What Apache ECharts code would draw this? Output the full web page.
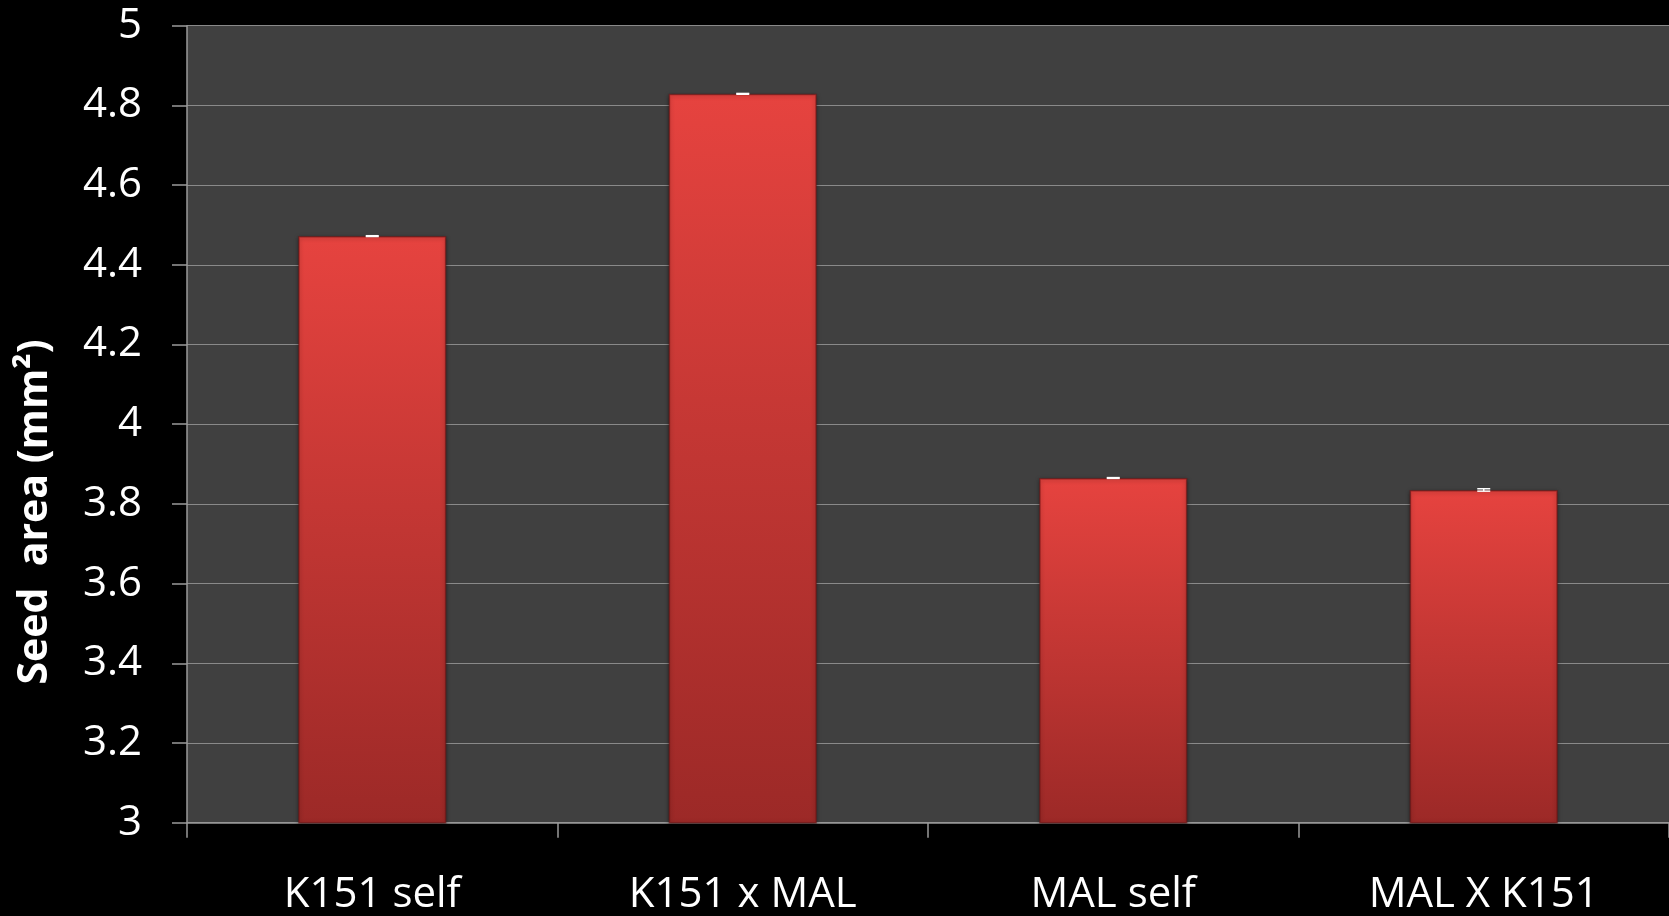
<!DOCTYPE html>
<html>
<head>
<meta charset="utf-8">
<script src="https://cdn.jsdelivr.net/npm/echarts@6/dist/echarts.min.js"></script>
<style>
html,body{margin:0;padding:0;background:#000;}
#chart{width:1669px;height:916px;}
</style>
</head>
<body>
<div id="chart"></div>
<script>
const categories = ['K151 self', 'K151 x MAL', 'MAL self', 'MAL X K151'];
const seedArea = [4.472, 4.829, 3.865, 3.835];
const seedAreaErr = [0.001, 0.001, 0.001, 0.003];
const yTicks = [3, 3.2, 3.4, 3.6, 3.8, 4, 4.2, 4.4, 4.6, 4.8, 5];

const errData = seedArea.map((v, i) => [i, v - seedAreaErr[i], v + seedAreaErr[i]]);

const chart = echarts.init(document.getElementById('chart'));
chart.setOption({
  backgroundColor: '#000',
  animation: false,
  grid: {
    left: 187, right: 0, top: 25.7, bottom: 93.3,
    show: true, backgroundColor: '#404040', borderWidth: 0
  },
  xAxis: {
    type: 'category',
    data: categories,
    boundaryGap: true,
    axisLine: { show: true, lineStyle: { color: '#9a9a9a', width: 1.5 } },
    axisTick: { show: true, length: 15, alignWithLabel: false, lineStyle: { color: '#9a9a9a', width: 1.5 } },
    axisLabel: { color: '#fff', fontFamily: 'Open Sans', fontSize: 42, margin: 51 },
    splitLine: { show: false }
  },
  yAxis: {
    type: 'value',
    min: yTicks[0], max: yTicks[yTicks.length - 1], interval: 0.2,
    axisLine: { show: true, lineStyle: { color: '#9a9a9a', width: 1.5 } },
    axisTick: { show: true, length: 15, lineStyle: { color: '#9a9a9a', width: 1.5 } },
    axisLabel: {
      color: '#fff', fontFamily: 'Open Sans', fontSize: 42, margin: 45,
      formatter: v => String(Math.round(v * 10) / 10)
    },
    splitLine: { show: true, lineStyle: { color: '#8a8a8a', width: 1.2 } }
  },
  graphic: [{
    type: 'text',
    x: 35, y: 512,
    rotation: Math.PI / 2,
    style: {
      text: 'Seed  area (mm²)',
      fill: '#fff',
      font: 'bold 41px "Open Sans"',
      align: 'center',
      verticalAlign: 'middle'
    }
  }],
  series: [{
    type: 'bar',
    data: seedArea,
    barWidth: '40%',
    itemStyle: {
      color: new echarts.graphic.LinearGradient(0, 0, 0, 1, [
        { offset: 0, color: '#e6433f' },
        { offset: 1, color: '#9c2927' }
      ]),
      borderColor: 'rgba(110,20,20,0.6)',
      borderWidth: 1.5,
      shadowColor: 'rgba(0,0,0,0.45)',
      shadowBlur: 4,
      shadowOffsetY: 1
    },
    z: 2
  }, {
    type: 'custom',
    data: errData,
    z: 5,
    renderItem: function (params, api) {
      const x = api.coord([api.value(0), api.value(1)])[0];
      const lo = api.coord([api.value(0), api.value(1)])[1];
      const hi = api.coord([api.value(0), api.value(2)])[1];
      const hw = 6.5;
      const st = { stroke: '#fff', lineWidth: 1.5 };
      return {
        type: 'group',
        children: [
          { type: 'line', shape: { x1: x, y1: lo, x2: x, y2: hi }, style: st },
          { type: 'line', shape: { x1: x - hw, y1: lo, x2: x + hw, y2: lo }, style: st },
          { type: 'line', shape: { x1: x - hw, y1: hi, x2: x + hw, y2: hi }, style: st }
        ]
      };
    }
  }]
});
</script>
</body>
</html>
